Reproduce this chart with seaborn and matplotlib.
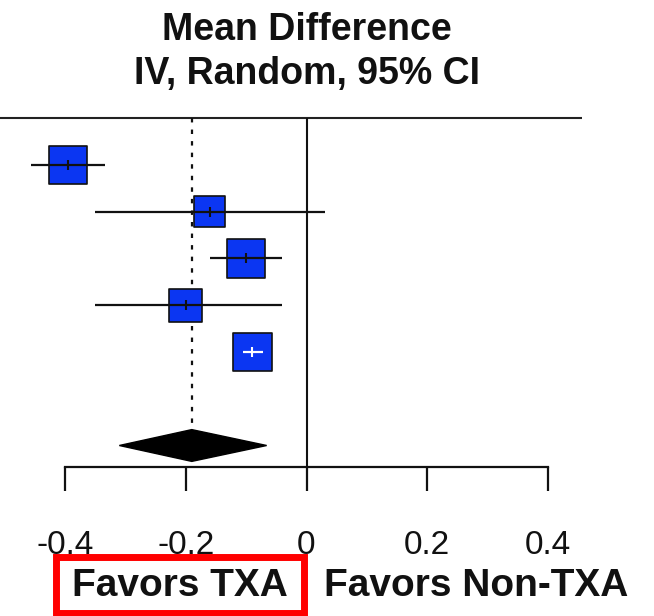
import numpy as np
import pandas as pd
import matplotlib
matplotlib.use("Agg")
import matplotlib.pyplot as plt
from matplotlib.patches import Rectangle
import seaborn as sns

# Study-level mean differences (TXA vs Non-TXA) with 95% CI and weights (%)
studies = ["Study 1", "Study 2", "Study 3", "Study 4", "Study 5"]
mean_diff = [-0.395, -0.16, -0.10, -0.20, -0.09]
ci_low = [-0.456, -0.35, -0.16, -0.35, -0.106]
ci_high = [-0.334, 0.03, -0.04, -0.04, -0.072]
weights = [22.4, 14.9, 22.4, 16.9, 23.4]

# Pooled random-effects estimate
pooled_md = -0.19
pooled_low = -0.31
pooled_high = -0.066

tick_values = [-0.4, -0.2, 0, 0.2, 0.4]
tick_labels = ["-0.4", "-0.2", "0", "0.2", "0.4"]
title_lines = ["Mean Difference", "IV, Random, 95% CI"]
favors_left = "Favors TXA"
favors_right = "Favors Non-TXA"

sns.set_theme(style="white")
plt.rcParams["font.family"] = ["Liberation Sans", "DejaVu Sans"]

W, H = 654, 616
fig = plt.figure(figsize=(W / 100, H / 100), dpi=100)
ax = fig.add_axes([0, 0, 1, 1])
ax.set_facecolor("white")

# scale: 603.75 px per unit, zero at x=306.5 px; rows 46.75 px apart, first row at 165 px
px_per_unit = 603.75
x0_px = 306.5
row_px = 46.75
row0_px = 165
ax.set_xlim(-x0_px / px_per_unit, (W - x0_px) / px_per_unit)
ax.set_ylim((H - row0_px) / row_px, -row0_px / row_px)

df = pd.DataFrame({"study": studies, "md": mean_diff, "lo": ci_low,
                   "hi": ci_high, "w": weights})
df["row"] = np.arange(len(df))

blue = "#0b36f2"
axis_row = 6.46
pooled_row = 6.0
diamond_half = 0.34

# header rule, line of no effect and pooled-estimate reference line
ax.hlines(-1, ax.get_xlim()[0], (582 - x0_px) / px_per_unit, color="#222222", lw=1.5, zorder=1)
ax.vlines(0, -1, axis_row, color="#111111", lw=1.5, zorder=1)
ax.vlines(pooled_md, -1, pooled_row - diamond_half, color="#111111", lw=1.6,
          linestyles=[(0, (2.0, 3.2))], zorder=1)

# weighted boxes: area proportional to study weight
sns.scatterplot(data=df, x="md", y="row", size="w", sizes=(0, 840), size_norm=(0, 25),
                marker="s", color=blue, edgecolor="#111111", linewidth=1.2,
                legend=False, ax=ax, zorder=3)

# confidence intervals drawn over the boxes (white when contained in the box)
side_units = np.sqrt(df["w"] / 25 * 840) / 72 * 100 / px_per_unit
inside = (df["lo"] > df["md"] - side_units / 2) & (df["hi"] < df["md"] + side_units / 2)
for i, r in df.iterrows():
    c = "white" if inside[i] else "#111111"
    ax.hlines(r["row"], r["lo"], r["hi"], color=c, lw=1.6, zorder=4)
    ax.scatter([r["md"]], [r["row"]], marker="|", s=50, color=c, linewidths=1.5, zorder=5)

# pooled diamond
ax.fill([pooled_low, pooled_md, pooled_high, pooled_md],
        [pooled_row, pooled_row - diamond_half, pooled_row, pooled_row + diamond_half],
        color="black", zorder=3)

# x axis
for s in ["top", "left", "right"]:
    ax.spines[s].set_visible(False)
ax.spines["bottom"].set_position(("data", axis_row))
ax.spines["bottom"].set_bounds(tick_values[0], tick_values[-1])
ax.spines["bottom"].set_linewidth(1.6)
ax.spines["bottom"].set_color("#111111")
ax.set_xticks(tick_values)
ax.set_xticklabels(tick_labels)
ax.tick_params(axis="x", direction="out", length=17, width=1.6, color="#111111",
               pad=28, labelsize=24, labelcolor="#111111", bottom=True)
ax.set_yticks([])
ax.set_xlabel("")
ax.set_ylabel("")

# header
ax.text(0, (40 - row0_px) / row_px, title_lines[0], ha="center", va="baseline",
        fontsize=27, fontweight="bold", color="#111111")
ax.text(0, (84 - row0_px) / row_px, title_lines[1], ha="center", va="baseline",
        fontsize=27, fontweight="bold", color="#111111")

# direction labels
fav_row = (596 - row0_px) / row_px
ax.text((180 - x0_px) / px_per_unit, fav_row, favors_left, ha="center", va="baseline",
        fontsize=28, fontweight="bold", color="#111111")
ax.text((476 - x0_px) / px_per_unit, fav_row, favors_right, ha="center", va="baseline",
        fontsize=28, fontweight="bold", color="#111111")

# highlight box around the TXA label
fig.add_artist(Rectangle((55.5 / W, 1 - 612.5 / H), 248 / W, 56 / H,
                         transform=fig.transFigure, fill=False, edgecolor="#ff0000",
                         linewidth=5, zorder=10))

fig.savefig("out.png", dpi=100, facecolor="white")
